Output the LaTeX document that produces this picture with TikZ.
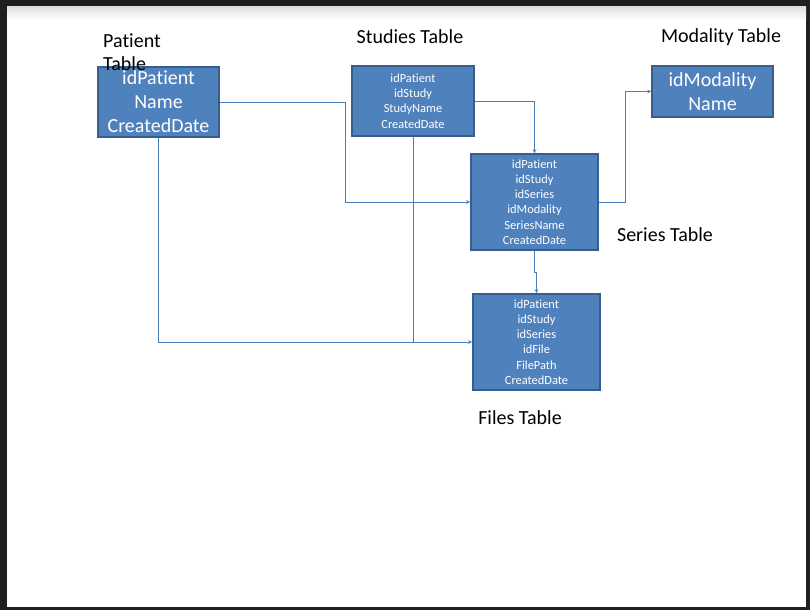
\documentclass[tikz,border=0pt]{standalone}
\usepackage{fontspec}
\setmainfont{Carlito}[Ligatures=NoCommon]
\usetikzlibrary{arrows}
\definecolor{boxblue}{HTML}{4F81BD}
\definecolor{boxedge}{HTML}{385D8A}
\definecolor{linkblue}{HTML}{4A7EBB}
\tikzstyle{tabla} = [rectangle, inner sep=0pt, align=center, draw=boxedge, line width=1.6pt, fill=boxblue, text=white]
\tikzstyle{grande} = [tabla, font=\fontsize{20}{24}\selectfont]
\tikzstyle{chica} = [tabla, font=\fontsize{12.4}{15.2}\selectfont]
\tikzstyle{titulo} = [align=center, font=\fontsize{20}{23}\selectfont]
\tikzstyle{arrow} = [line width=0.8pt, draw=linkblue, ->, >=stealth]
\tikzstyle{linea} = [line width=0.8pt, draw=linkblue]

\begin{document}
\begin{tikzpicture}[x=1pt, y=-1pt]
        \fill[black!88] (0,0) rectangle (810,610);
        \fill[white] (7,7) rectangle (806,607);
        \shade[top color=black!12, bottom color=white] (7,7) rectangle (806,20);
        \useasboundingbox (0,0) rectangle (810,610);

        \node (patient) [grande, minimum width=121pt, minimum height=70pt] at (158.5,102) {idPatient \\ Name \\ CreatedDate};
        \node (studies) [chica, minimum width=122pt, minimum height=70pt] at (413,101) {idPatient \\ idStudy \\ StudyName \\ CreatedDate};
        \node (modality) [grande, minimum width=121pt, minimum height=51pt] at (712.5,91.5) {idModality \\ Name};
        \node (series) [chica, minimum width=127pt, minimum height=96pt] at (534.5,202) {idPatient \\ idStudy \\ idSeries \\ idModality \\ SeriesName \\ CreatedDate};
        \node (files) [chica, minimum width=127pt, minimum height=96pt] at (536.5,342) {idPatient \\ idStudy \\ idSeries \\ idFile \\ FilePath \\ CreatedDate};

        \node (patientlbl) [titulo, align=left, anchor=west, inner sep=0pt] at (103,52) {Patient \\ Table};
        \node (studieslbl) [titulo] at (410,37) {Studies Table};
        \node (modalitylbl) [titulo] at (721,37) {Modality Table};
        \node (serieslbl) [titulo] at (665,235) {Series Table};
        \node (fileslbl) [titulo] at (520,418) {Files Table};

        \coordinate (codo1) at (345,102);
        \coordinate (codo2) at (625,202);

        \draw [arrow] (patient.east) -- (codo1) |- (series.west);
        \draw [arrow] (studies.east) -| (series.north);
        \draw [arrow] (series.east) -- (codo2) |- (modality.west);
        \draw [arrow] (patient.south) |- (files.west);
        \draw [linea] (studies.south) -- (studies.south |- files.west);
        \draw [arrow] (series.south) -- ++(0,22) -| (files.north);
    \end{tikzpicture}
\end{document}
